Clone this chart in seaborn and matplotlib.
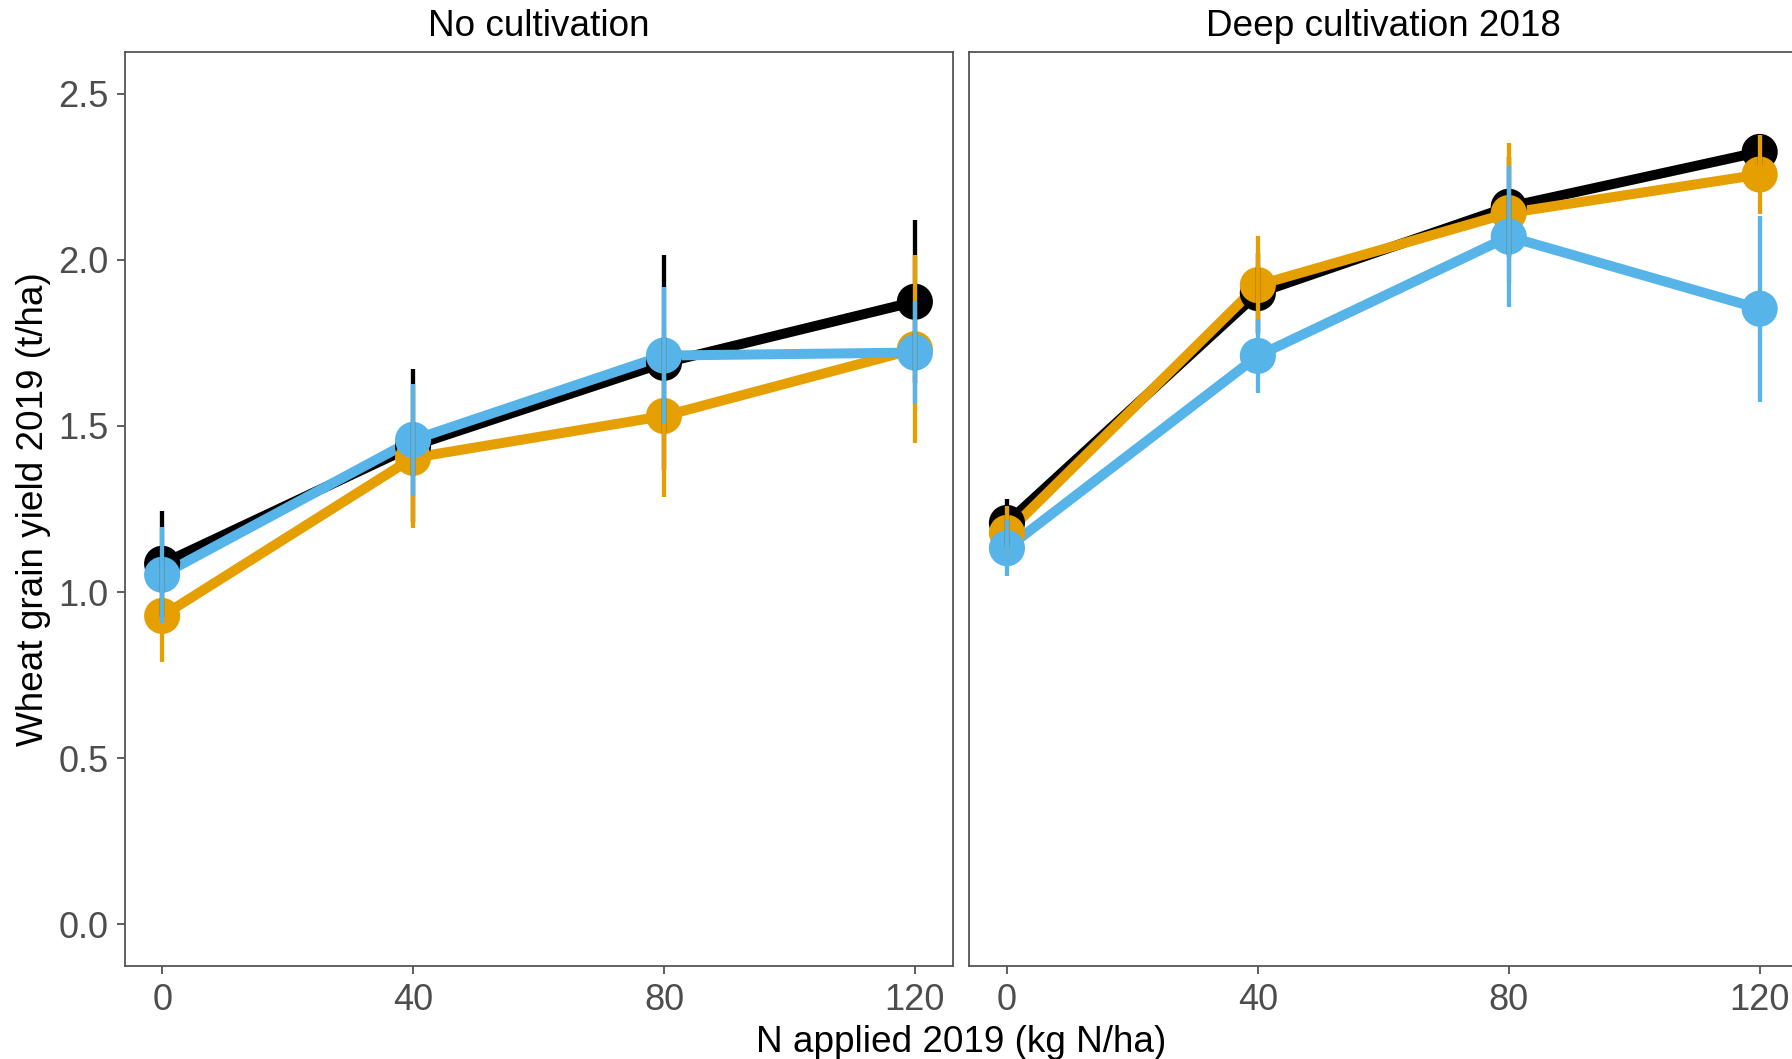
import numpy as np
import pandas as pd
import matplotlib
matplotlib.use("Agg")
import matplotlib.pyplot as plt
import seaborn as sns

# ---------------- data ----------------
n_rates = [0, 40, 80, 120]
panels = ["No cultivation", "Deep cultivation 2018"]
groups = ["black", "orange", "blue"]
group_colors = {"black": "#000000", "orange": "#E69F00", "blue": "#56B4E9"}

# No cultivation
nc_black_mean = [1.085, 1.44, 1.69, 1.874]
nc_black_se = [0.16, 0.23, 0.324, 0.246]
nc_orange_mean = [0.928, 1.404, 1.530, 1.731]
nc_orange_se = [0.14, 0.21, 0.243, 0.283]
nc_blue_mean = [1.052, 1.458, 1.712, 1.721]
nc_blue_se = [0.145, 0.169, 0.207, 0.155]

# Deep cultivation 2018
dc_black_mean = [1.208, 1.90, 2.16, 2.325]
dc_black_se = [0.072, 0.12, 0.15, 0.04]
dc_orange_mean = [1.178, 1.924, 2.141, 2.257]
dc_orange_se = [0.08, 0.148, 0.21, 0.119]
dc_blue_mean = [1.132, 1.711, 2.07, 1.853]
dc_blue_se = [0.085, 0.112, 0.212, 0.28]

y_ticks = [0.0, 0.5, 1.0, 1.5, 2.0, 2.5]
x_ticks = [0, 40, 80, 120]

rows = []
series = {
    panels[0]: {"black": (nc_black_mean, nc_black_se),
                "orange": (nc_orange_mean, nc_orange_se),
                "blue": (nc_blue_mean, nc_blue_se)},
    panels[1]: {"black": (dc_black_mean, dc_black_se),
                "orange": (dc_orange_mean, dc_orange_se),
                "blue": (dc_blue_mean, dc_blue_se)},
}
for p in panels:
    for g in groups:
        m, s = series[p][g]
        for x, mm, ss in zip(n_rates, m, s):
            rows.append({"panel": p, "group": g, "N": x, "yield": mm, "se": ss})
df = pd.DataFrame(rows)

# ---------------- style ----------------
sns.set_theme(style="white")
plt.rcParams["font.family"] = ["Liberation Sans", "DejaVu Sans"]

W, H = 1792, 1059
fig = plt.figure(figsize=(W / 100, H / 100), dpi=100)

ax_w = 828 / W
ax_h = (965.7 - 52.3) / H
ax_b = 1 - 965.7 / H
lefts = [124.5 / W, 969.3 / W]

tick_fs = 26
title_fs = 26.6
grey_text = "#4D4D4D"

for i, p in enumerate(panels):
    ax = fig.add_axes([lefts[i], ax_b, ax_w, ax_h])
    d = df[df["panel"] == p]
    sns.lineplot(data=d, x="N", y="yield", hue="group", hue_order=groups,
                 palette=group_colors, linewidth=7.2, legend=False,
                 errorbar=None, sort=False, ax=ax, zorder=2)
    sns.scatterplot(data=d, x="N", y="yield", hue="group", hue_order=groups,
                    palette=group_colors, s=26 ** 2, linewidth=0,
                    legend=False, ax=ax, zorder=3)
    for g in groups:
        dg = d[d["group"] == g]
        ax.vlines(dg["N"], dg["yield"] - dg["se"], dg["yield"] + dg["se"],
                  colors=group_colors[g], linewidth=3.1, zorder=4)

    ax.set_xlim(-6, 126)
    ax.set_ylim(-0.125, 2.625)
    ax.set_xticks(x_ticks)
    ax.set_xticklabels([str(v) for v in x_ticks])
    ax.set_xlabel("")
    ax.set_ylabel("")
    if i == 0:
        ax.set_yticks(y_ticks)
        ax.set_yticklabels([f"{v:.1f}" for v in y_ticks])
        ax.tick_params(axis="y", which="both", left=True, length=5.8,
                       width=1.1, color="#333333", pad=5.5,
                       labelsize=tick_fs, labelcolor=grey_text)
    else:
        ax.set_yticks(y_ticks)
        ax.tick_params(axis="y", left=False, labelleft=False)
    ax.tick_params(axis="x", which="both", bottom=True, length=5.8,
                   width=1.1, color="#333333", pad=6.5,
                   labelsize=tick_fs, labelcolor=grey_text)
    for sp in ax.spines.values():
        sp.set_visible(True)
        sp.set_color("#555555")
        sp.set_linewidth(1.3)
    ax.grid(False)
    ax.set_facecolor("white")
    ax.set_title(p, fontsize=title_fs, color="black", pad=11.7)

fig.text(961 / W, 1 - 1052 / H, "N applied 2019 (kg N/ha)", fontsize=title_fs,
         color="black", ha="center", va="baseline")
fig.text(42.7 / W, 1 - 509 / H, "Wheat grain yield 2019 (t/ha)",
         fontsize=title_fs, color="black", rotation=90, rotation_mode="anchor",
         ha="center", va="baseline")

fig.savefig("out.png", dpi=100)
